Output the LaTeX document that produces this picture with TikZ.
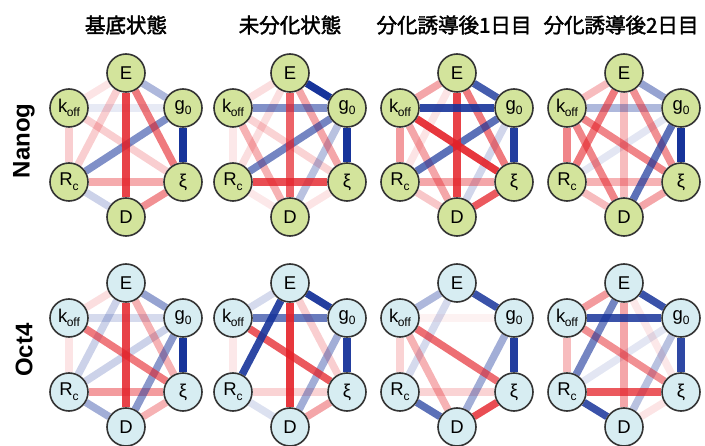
\documentclass[tikz,border=0pt]{standalone}
\usepackage{fontspec}
\setmainfont{Liberation Sans}
\newfontfamily\cjk{Noto Sans CJK JP}[FakeBold=2]
\pgfdeclarelayer{edges}
\pgfsetlayers{edges,main}
\definecolor{ered}{HTML}{E42128}
\definecolor{eblue}{HTML}{17349A}
\definecolor{ngreen}{HTML}{D3E49C}
\definecolor{nblue}{HTML}{D7EDF2}
\definecolor{nborder}{HTML}{333333}
\tikzset{
  vnode/.style={circle, draw=nborder, line width=1.6pt, minimum size=38pt, inner sep=0pt, font=\fontsize{18.5}{18.5}\selectfont},
  gnode/.style={vnode, fill=ngreen},
  bnode/.style={vnode, fill=nblue},
  lnk/.style={line width=7.5pt},
  coltitle/.style={font=\cjk\fontsize{20.5}{21}\selectfont, inner sep=0pt},
  rowlabel/.style={font=\bfseries\fontsize{24}{24}\selectfont, rotate=90, inner sep=0pt},
}
\newcommand\mkgraph[4]{%
  \node[#4] (#1E) at (#2, #3-72) {E};
  \node[#4] (#1K) at (#2-57, #3-37) {k\kern-0.5pt\raisebox{-0.4ex}{\fontsize{12}{12}\selectfont off}};
  \node[#4] (#1G) at (#2+57, #3-37) {g\raisebox{-0.4ex}{\fontsize{12}{12}\selectfont 0}};
  \node[#4] (#1R) at (#2-57, #3+37) {R\raisebox{-0.5ex}{\fontsize{12}{12}\selectfont c}};
  \node[#4] (#1X) at (#2+57, #3+37) {ξ};
  \node[#4] (#1D) at (#2, #3+72) {D};
}
\newcommand\lk[4]{\draw[lnk,#2,draw opacity=#1] (#3) -- (#4);}
\begin{document}
\begin{tikzpicture}[x=1pt,y=-1pt]
\useasboundingbox (0,0) rectangle (705,446);
\node[coltitle] (t1) at (126,25) {基底状態};
\node[coltitle] (t2) at (290,25) {未分化状態};
\node[coltitle] (t3) at (454,25) {分化誘導後1日目};
\node[coltitle] (t4) at (621,25) {分化誘導後2日目};
\node[rowlabel] (r1) at (24,141) {Nanog};
\node[rowlabel] (r2) at (24,350) {Oct4};

\mkgraph{a}{126}{145}{gnode}
\mkgraph{b}{290}{145}{gnode}
\mkgraph{c}{457}{145}{gnode}
\mkgraph{d}{624}{145}{gnode}
\mkgraph{e}{126}{355}{bnode}
\mkgraph{f}{290}{355}{bnode}
\mkgraph{g}{457}{355}{bnode}
\mkgraph{h}{624}{355}{bnode}

\begin{pgfonlayer}{edges}
% graph a
\lk{0.12}{ered}{aE}{aK}
\lk{0.10}{eblue}{aK}{aG}
\lk{0.22}{ered}{aK}{aR}
\lk{0.22}{ered}{aE}{aR}
\lk{0.22}{ered}{aK}{aX}
\lk{0.22}{eblue}{aR}{aD}
\lk{0.35}{eblue}{aE}{aG}
\lk{0.38}{ered}{aR}{aX}
\lk{0.5}{ered}{aX}{aD}
\lk{0.55}{eblue}{aR}{aG}
\lk{0.6}{ered}{aE}{aX}
\lk{0.85}{ered}{aE}{aD}
\lk{1}{eblue}{aG}{aX}
% graph b
\lk{0.1}{ered}{bK}{bR}
\lk{0.1}{ered}{bR}{bD}
\lk{0.12}{ered}{bX}{bD}
\lk{0.15}{ered}{bE}{bK}
\lk{0.15}{ered}{bE}{bR}
\lk{0.2}{ered}{bK}{bX}
\lk{0.3}{eblue}{bG}{bD}
\lk{0.35}{ered}{bK}{bD}
\lk{0.4}{ered}{bE}{bX}
\lk{0.55}{eblue}{bK}{bG}
\lk{0.6}{eblue}{bR}{bG}
\lk{0.7}{ered}{bE}{bD}
\lk{0.8}{ered}{bR}{bX}
\lk{1}{eblue}{bE}{bG}
\lk{1}{eblue}{bG}{bX}
% graph c
\lk{0.12}{ered}{cE}{cR}
\lk{0.2}{eblue}{cG}{cD}
\lk{0.25}{ered}{cR}{cD}
\lk{0.4}{ered}{cE}{cK}
\lk{0.45}{ered}{cK}{cR}
\lk{0.4}{ered}{cK}{cD}
\lk{0.4}{ered}{cR}{cX}
\lk{0.6}{ered}{cE}{cX}
\lk{0.7}{eblue}{cR}{cG}
\lk{0.75}{ered}{cX}{cD}
\lk{0.8}{eblue}{cE}{cG}
\lk{0.85}{ered}{cE}{cD}
\lk{0.9}{eblue}{cK}{cG}
\lk{0.9}{ered}{cK}{cX}
\lk{0.95}{eblue}{cG}{cX}
% graph d
\lk{0.12}{eblue}{dR}{dG}
\lk{0.3}{ered}{dE}{dD}
\lk{0.3}{ered}{dR}{dD}
\lk{0.3}{ered}{dE}{dK}
\lk{0.35}{ered}{dR}{dX}
\lk{0.35}{eblue}{dK}{dG}
\lk{0.4}{ered}{dX}{dD}
\lk{0.45}{eblue}{dE}{dG}
\lk{0.5}{ered}{dE}{dX}
\lk{0.55}{ered}{dK}{dR}
\lk{0.55}{ered}{dK}{dX}
\lk{0.55}{ered}{dK}{dD}
\lk{0.6}{ered}{dE}{dR}
\lk{0.7}{eblue}{dG}{dD}
\lk{1}{eblue}{dG}{dX}
% graph e
\lk{0.12}{ered}{eK}{eR}
\lk{0.15}{ered}{eE}{eK}
\lk{0.18}{eblue}{eK}{eG}
\lk{0.22}{eblue}{eE}{eR}
\lk{0.22}{eblue}{eR}{eG}
\lk{0.35}{ered}{eE}{eX}
\lk{0.35}{ered}{eX}{eD}
\lk{0.4}{eblue}{eR}{eD}
\lk{0.45}{eblue}{eE}{eG}
\lk{0.45}{ered}{eR}{eX}
\lk{0.5}{eblue}{eG}{eD}
\lk{0.6}{ered}{eK}{eX}
\lk{0.85}{ered}{eE}{eD}
\lk{1}{eblue}{eG}{eX}
% graph f
\lk{0.1}{ered}{fK}{fR}
\lk{0.15}{eblue}{fR}{fD}
\lk{0.18}{eblue}{fE}{fK}
\lk{0.2}{ered}{fR}{fX}
\lk{0.22}{ered}{fE}{fX}
\lk{0.4}{ered}{fX}{fD}
\lk{0.4}{eblue}{fG}{fD}
\lk{0.65}{eblue}{fK}{fG}
\lk{0.75}{ered}{fK}{fX}
\lk{0.9}{ered}{fE}{fD}
\lk{0.9}{eblue}{fE}{fR}
\lk{0.95}{eblue}{fE}{fG}
\lk{0.95}{eblue}{fG}{fX}
% graph g
\lk{0.06}{ered}{gK}{gG}
\lk{0.18}{eblue}{gE}{gR}
\lk{0.2}{ered}{gK}{gR}
\lk{0.2}{ered}{gR}{gX}
\lk{0.35}{ered}{gK}{gD}
\lk{0.35}{eblue}{gE}{gK}
\lk{0.4}{eblue}{gG}{gD}
\lk{0.65}{ered}{gK}{gX}
\lk{0.7}{eblue}{gR}{gD}
\lk{0.8}{ered}{gX}{gD}
\lk{0.85}{eblue}{gE}{gG}
\lk{0.95}{eblue}{gG}{gX}
% graph h
\lk{0.1}{ered}{hE}{hX}
\lk{0.12}{ered}{hX}{hD}
\lk{0.12}{eblue}{hR}{hG}
\lk{0.3}{eblue}{hG}{hD}
\lk{0.3}{ered}{hK}{hR}
\lk{0.4}{ered}{hE}{hD}
\lk{0.45}{ered}{hE}{hK}
\lk{0.5}{ered}{hK}{hX}
\lk{0.6}{eblue}{hE}{hR}
\lk{0.75}{ered}{hR}{hX}
\lk{0.85}{eblue}{hE}{hG}
\lk{0.85}{eblue}{hK}{hG}
\lk{0.85}{eblue}{hR}{hD}
\lk{0.9}{eblue}{hG}{hX}
\end{pgfonlayer}
\end{tikzpicture}
\end{document}
